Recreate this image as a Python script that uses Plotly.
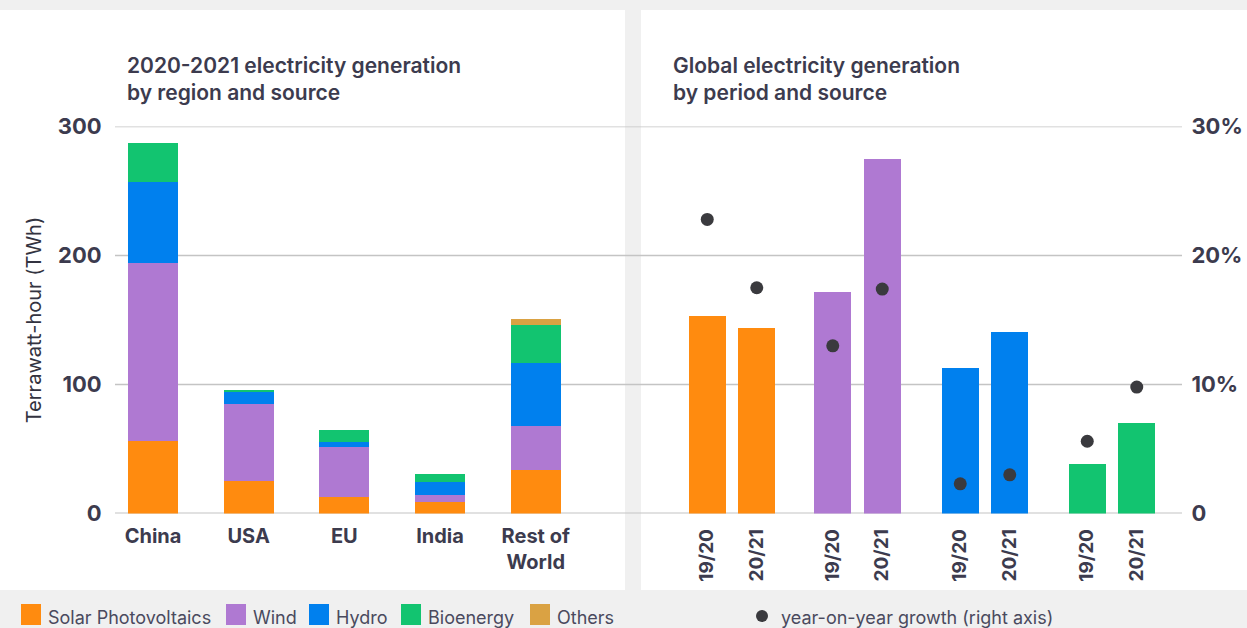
import plotly.graph_objects as go

# ---------------- data ----------------
regions = ["China", "USA", "EU", "India", "Rest of<br>World"]
solar = [56, 25, 12.5, 9, 34]
wind = [138, 60, 39, 5.5, 34]
hydro = [63, 9, 4, 10, 48.5]
bio = [30, 2, 9.5, 6, 30]
others = [0, 0, 0, 0, 4.5]

periods = ["19/20", "20/21"]
global_solar = [153, 143.5]
global_wind = [172, 275]
global_hydro = [112.5, 140.5]
global_bio = [38, 70]
growth_solar = [22.8, 17.5]
growth_wind = [13.0, 17.4]
growth_hydro = [2.3, 3.0]
growth_bio = [5.6, 9.8]

series_names = ["Solar Photovoltaics", "Wind", "Hydro", "Bioenergy", "Others"]
twh_ticks = [0, 100, 200, 300]
pct_ticks = [0, 10, 20, 30]
pct_labels = ["0", "10%", "20%", "30%"]

# ---------------- styles ----------------
W, H = 1247, 628
FONT = "Inter"
TXT = "#3C3B4E"
COLORS = ["#FF8B0F", "#AF79D2", "#0080EE", "#12C470", "#DAA243"]
DOT = "#3A3A3E"
BG = "#F0F0F0"


def px(x):
    return x / W


def py(y):
    return 1 - y / H


fig = go.Figure()

# left stacked bars
for name, vals, col in zip(series_names, [solar, wind, hydro, bio, others], COLORS):
    fig.add_trace(go.Bar(x=regions, y=vals, name=name, marker=dict(color=col, line=dict(width=0)),
                         width=0.52, xaxis="x", yaxis="y", showlegend=False))

# right bars + growth dots
glob = [global_solar, global_wind, global_hydro, global_bio]
growth = [growth_solar, growth_wind, growth_hydro, growth_bio]
for i, vals in enumerate(glob):
    xa = f"x{i + 2}"
    fig.add_trace(go.Bar(x=periods, y=vals, name=series_names[i], marker=dict(color=COLORS[i], line=dict(width=0)),
                         width=0.75, xaxis=xa, yaxis="y", showlegend=False))
for i, gr in enumerate(growth):
    xa = f"x{i + 2}"
    fig.add_trace(go.Scatter(x=periods, y=gr, mode="markers", name="year-on-year growth (right axis)",
                             marker=dict(color=DOT, size=13), xaxis=xa, yaxis="y2", showlegend=False))

y_dom = [py(513.5), py(126.5)]
tickfont_big = dict(family=FONT, size=22, color=TXT, weight=700)

layout = dict(
    width=W, height=H,
    margin=dict(l=0, r=0, t=0, b=0),
    paper_bgcolor=BG, plot_bgcolor="rgba(0,0,0,0)",
    barmode="stack",
    showlegend=False,
    font=dict(family=FONT, color=TXT),
    yaxis=dict(domain=y_dom, range=[0, 300], tickvals=twh_ticks, showgrid=False, zeroline=False,
               showline=False, ticks="outside", ticklen=8, tickcolor="rgba(0,0,0,0)",
               tickfont=tickfont_big, anchor="x", automargin=False, fixedrange=True,
               title=dict(text="Terrawatt-hour (TWh)", font=dict(family=FONT, size=20, color="#333340"),
                          standoff=10)),
    yaxis2=dict(domain=y_dom, range=[0, 30], tickvals=pct_ticks, ticktext=pct_labels, overlaying="y",
                side="right", anchor="free", position=px(1182), showgrid=False, zeroline=False,
                showline=False, ticks="outside", ticklen=4, tickcolor="rgba(0,0,0,0)",
                tickfont=tickfont_big, automargin=False, fixedrange=True),
    xaxis=dict(domain=[px(115), px(625)], range=[-0.397, 4.933], anchor="y", showgrid=False,
               zeroline=False, showline=False, ticks="outside", ticklen=4, tickcolor="rgba(0,0,0,0)",
               tickfont=dict(family=FONT, size=20, color=TXT, weight=700), automargin=False,
               fixedrange=True),
)

right_centers = [732, 857.5, 985, 1112]
for i, c in enumerate(right_centers):
    layout[f"xaxis{i + 2}"] = dict(domain=[px(c - 49.5), px(c + 49.5)], range=[-0.5, 1.5], anchor="y",
                                   showgrid=False, zeroline=False, showline=False, ticks="outside",
                                   ticklen=7, tickcolor="rgba(0,0,0,0)", tickangle=-90,
                                   tickfont=dict(family=FONT, size=19, color=TXT, weight=700),
                                   automargin=False, fixedrange=True)

shapes = [
    dict(type="rect", xref="paper", yref="paper", x0=px(0), x1=px(625), y0=py(590), y1=py(10),
         fillcolor="white", line=dict(width=0), layer="below"),
    dict(type="rect", xref="paper", yref="paper", x0=px(641), x1=px(W), y0=py(590), y1=py(10),
         fillcolor="white", line=dict(width=0), layer="below"),
]
for t in twh_ticks:
    shapes.append(dict(type="line", xref="paper", yref="y", x0=px(115), x1=px(1182), y0=t, y1=t,
                       line=dict(color="#C4C4C4", width=2 if t == 0 else 1.3), layer="below"))

# custom legend
legend_x = [21, 226, 309, 401, 530]
annotations = []
for xs, name, col in zip(legend_x, series_names, COLORS):
    shapes.append(dict(type="rect", xref="paper", yref="paper", x0=px(xs), x1=px(xs + 20),
                       y0=py(625), y1=py(604), fillcolor=col, line=dict(width=0)))
    annotations.append(dict(xref="paper", yref="paper", x=px(xs + 25), y=py(617), text=name,
                            showarrow=False, xanchor="left", yanchor="middle",
                            font=dict(family=FONT, size=18, color="#4A4A5E")))
shapes.append(dict(type="circle", xref="paper", yref="paper", x0=px(756), x1=px(768), y0=py(622),
                   y1=py(610), fillcolor=DOT, line=dict(width=0)))
annotations.append(dict(xref="paper", yref="paper", x=px(779), y=py(617),
                        text="year-on-year growth (right axis)", showarrow=False, xanchor="left",
                        yanchor="middle", font=dict(family=FONT, size=18, color="#4A4A5E")))

# panel titles
annotations.append(dict(xref="paper", yref="paper", x=px(125), y=py(51), align="left",
                        text="2020-2021 electricity generation<br>by region and source", showarrow=False,
                        xanchor="left", yanchor="top",
                        font=dict(family=FONT, size=21, color=TXT, weight=600)))
annotations.append(dict(xref="paper", yref="paper", x=px(671), y=py(51), align="left",
                        text="Global electricity generation<br>by period and source", showarrow=False,
                        xanchor="left", yanchor="top",
                        font=dict(family=FONT, size=21, color=TXT, weight=600)))

layout["shapes"] = shapes
layout["annotations"] = annotations
fig.update_layout(**layout)

fig.write_html("out.html")
